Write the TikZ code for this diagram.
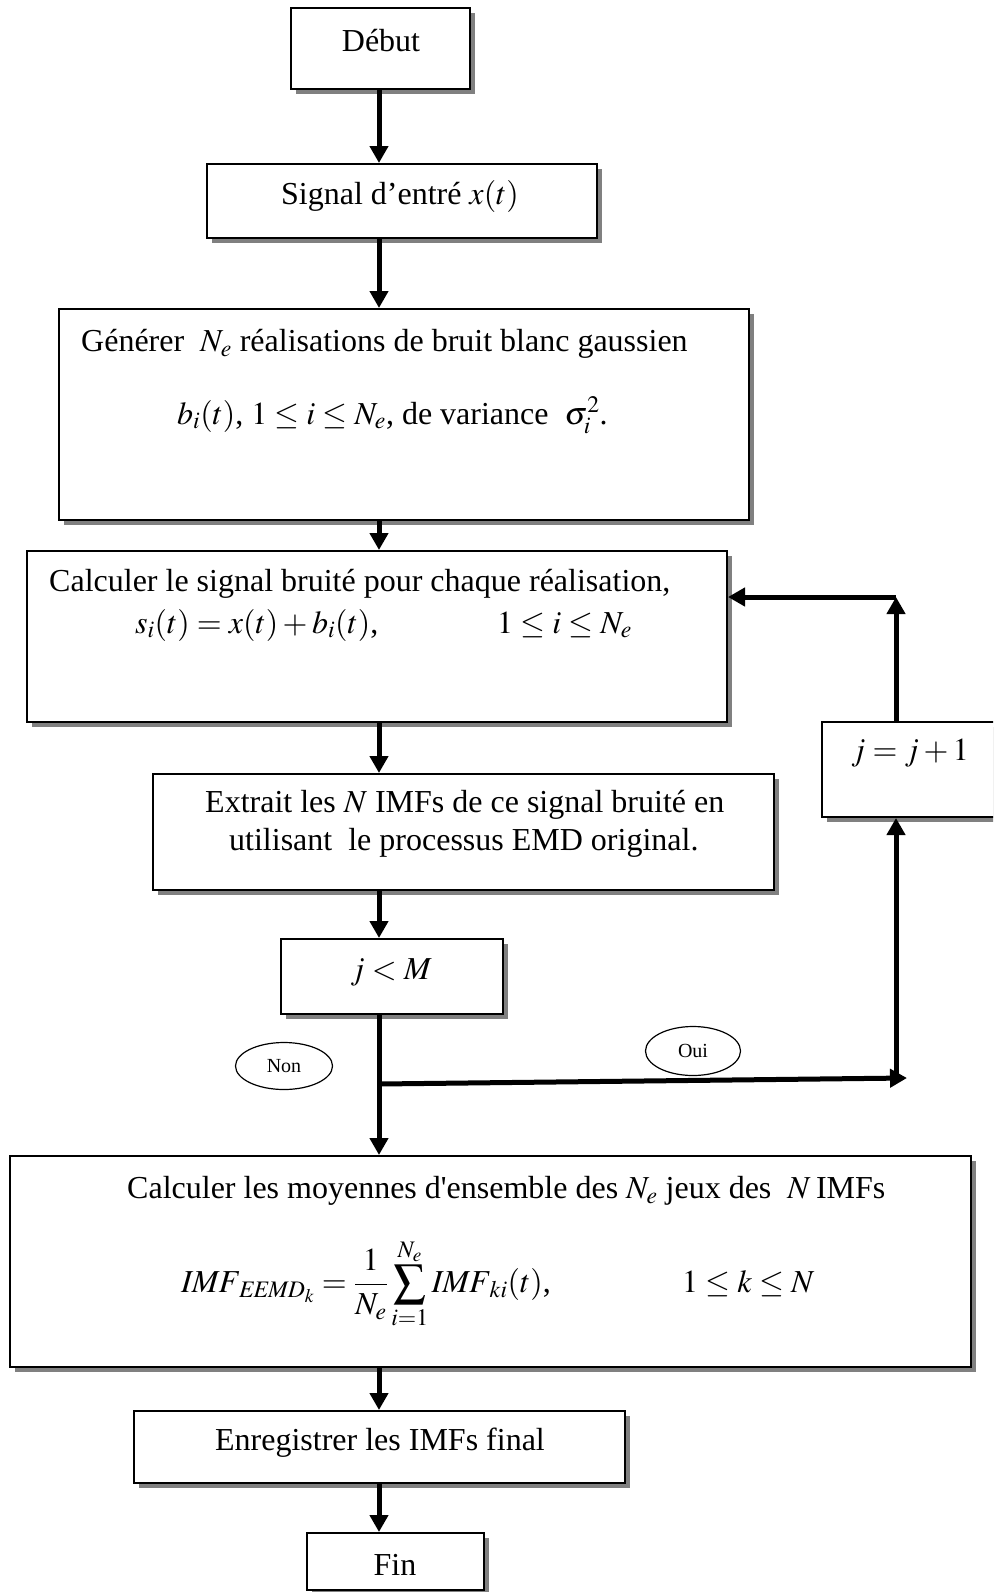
\documentclass[tikz,border=0pt]{standalone}
\usepackage{amsmath}
\usepackage{mathptmx}
\usepackage{fontspec}
\setmainfont{Liberation Serif}[Ligatures=TeXOff]
\usetikzlibrary{shapes.geometric,shadows,arrows.meta}
\begin{document}
\begin{tikzpicture}[x=1pt,y=-1pt,
  box/.style={draw, line width=2pt, fill=white, inner sep=0pt,
    drop shadow={shadow xshift=5pt, shadow yshift=-5pt, fill=black!50, opacity=1}},
  arr/.style={line width=5pt, -{Triangle[length=17pt,width=18pt]}},
  txt/.style={font=\fontsize{32}{38}\selectfont, inner sep=0pt},
  oval/.style={draw, ellipse, line width=1.2pt, inner sep=0pt, font=\fontsize{20}{24}\selectfont}]
\clip (0,0) rectangle (993,1592);
\useasboundingbox (0,0) rectangle (993,1592);
\fill[white] (0,0) rectangle (993,1592);
\coordinate (X) at (379,0);
% boxes
\node[box, minimum width=179pt, minimum height=81pt] (debut) at (380.5,48.5) {};
\node[box, minimum width=390pt, minimum height=74pt] (signal) at (402,201) {};
\node[box, minimum width=690pt, minimum height=211pt] (gen) at (404,414.5) {};
\node[box, minimum width=700pt, minimum height=171pt] (calc) at (377,636.5) {};
\node[box, minimum width=621pt, minimum height=116pt] (extr) at (463.5,832) {};
\node[box, minimum width=222pt, minimum height=75pt] (cond) at (392,976.5) {};
\node[box, minimum width=180pt, minimum height=95pt] (incr) at (912,769.5) {};
\node[box, minimum width=961pt, minimum height=211pt] (moy) at (490.5,1261.5) {};
\node[box, minimum width=491pt, minimum height=72pt] (enr) at (379.5,1447) {};
\node[box, minimum width=177pt, minimum height=57pt] (fin) at (395.5,1561.5) {};
% texts
\node[txt] (tdebut) at (381,41) {Début};
\node[txt] (tsignal) at (400,196) {Signal d’entré $x(t)$};
\node[txt, anchor=west] (tgen1) at (81,344) {Générer\ \ $N_e$\ réalisations de bruit blanc gaussien};
\node[txt, anchor=west] (tgen2) at (177,415) {$b_i(t)$,\ $1\le i\le N_e$,\ de variance\ \ $\sigma_i^2$.};
\node[txt, anchor=west] (tcalc1) at (49,584) {Calculer le signal bruité pour chaque réalisation,};
\node[txt, anchor=west] (tcalc2) at (135,625) {$s_i(t)=x(t)+b_i(t)$,};
\node[txt, anchor=west] (tcalc3) at (497,625) {$1\le i\le N_e$};
\node[txt, anchor=west] (textr1) at (205,805) {Extrait les $N$ IMFs de ce signal bruité en};
\node[txt, anchor=west] (textr2) at (229,843) {utilisant\ \ le processus EMD original.};
\node[txt] (tcond) at (391,972) {$j<M$};
\node[txt] (tincr) at (910,753) {$j=j+1$};
\node[txt, anchor=west] (tmoy1) at (127,1191) {Calculer les moyennes d'ensemble des $N_e$ jeux des\ \ $N$\,IMFs};
\node[txt, anchor=west] (tmoy2) at (181,1284) {$\mathit{IMF}_{\mathit{EEMD}_k} =\dfrac{1}{N_e}\displaystyle\sum_{i=1}^{N_e}\mathit{IMF}_{ki}(t)$,};
\node[txt, anchor=west] (tmoy3) at (682,1284) {$1\le k\le N$};
\node[txt] (tenr) at (380,1443) {Enregistrer les IMFs final};
\node[txt] (tfin) at (395,1565) {Fin};
% ovals
\node[oval, minimum width=97pt, minimum height=47pt] (non) at (284,1066) {Non};
\node[oval, minimum width=95pt, minimum height=49pt] (oui) at (693,1051) {Oui};
% connectors
\draw[arr] (debut.south -| X) -- (signal.north -| X);
\draw[arr] (signal.south -| X) -- (gen.north -| X);
\draw[arr] (gen.south -| X) -- (calc.north -| X);
\draw[arr] (calc.south -| X) -- (extr.north -| X);
\draw[arr] (extr.south -| X) -- (cond.north -| X);
\draw[arr] (cond.south -| X) -- (moy.north -| X);
\draw[arr] (moy.south -| X) -- (enr.north -| X);
\draw[arr] (enr.south -| X) -- (fin.north -| X);
\coordinate (br) at (379,1084);
\coordinate (brend) at (907,1078);
\coordinate (R) at (896,0);
\coordinate (top) at (896,597);
\coordinate (rbot) at (896,1076);
\draw[arr] (br) -- (brend);
\draw[arr] (rbot) -- (incr.south -| R);
\draw[arr] (incr.north -| R) -- (top);
\draw[arr] (top) -- (calc.east |- top);
\end{tikzpicture}
\end{document}
